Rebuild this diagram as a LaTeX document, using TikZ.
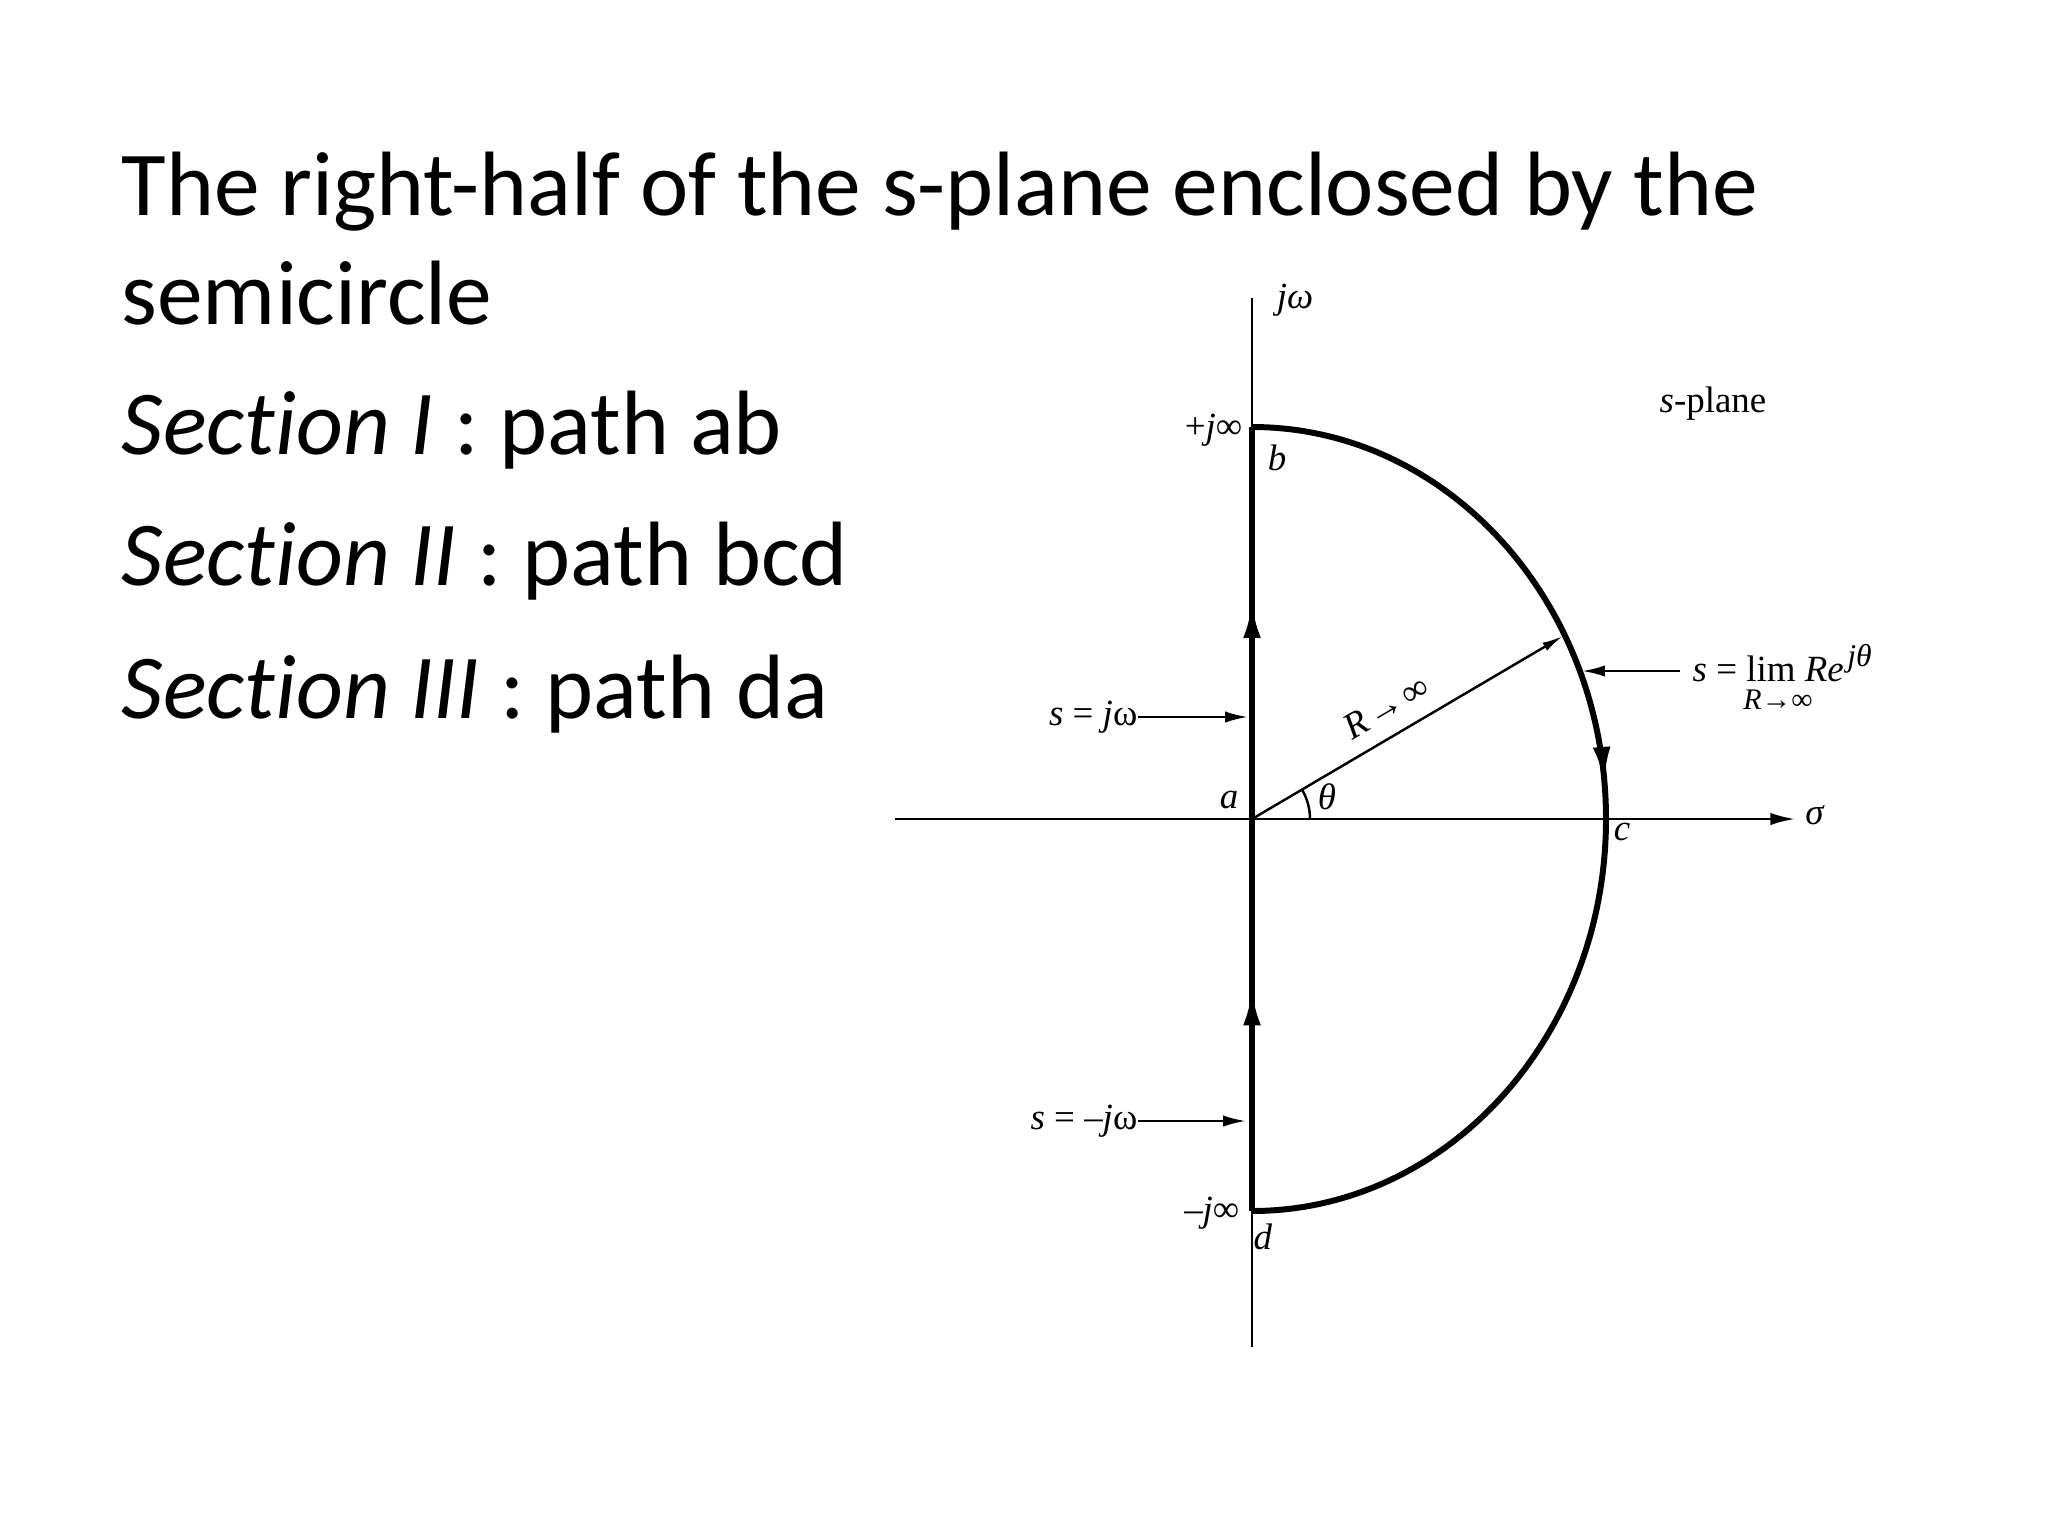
\documentclass[tikz,border=0pt]{standalone}
\usepackage{fontspec}
\setmainfont{Carlito}[Ligatures=NoCommon,RawFeature={-liga;-dlig}]
\newfontfamily\lblfont{Liberation Serif}
\usetikzlibrary{arrows.meta,decorations.markings}
\tikzset{pathtip/.tip={Latex[length=10.5pt,width=5pt]}}
\newcommand\nolig{\kern0pt}
\begin{document}
\begin{tikzpicture}[x=0.01cm,y=-0.01cm,
  thinline/.style={line width=0.7pt},
  thickline/.style={line width=1.7pt},
  lbl/.style={inner sep=0pt, font=\lblfont\fontsize{10.5}{12}\selectfont},
  titletext/.style={inner sep=0pt, anchor=base west, font=\fontsize{26}{30}\selectfont},
  smalltip/.style={-{Latex[length=6.5pt,width=3.2pt]}}
]
\fill[white] (0,0) rectangle (2048,1536);
\useasboundingbox (0,0) rectangle (2048,1536);

% text
\node[titletext] (t1) at (121,215) {The right-half of the s-plane enclosed by the};
\node[titletext] (t2) at (121,324) {semicircle};
\node[titletext] (s1) at (121,454) {\textit{Sect\nolig ion I} : path ab};
\node[titletext] (s2) at (121,585) {\textit{Sect\nolig ion II} : path bcd};
\node[titletext] (s3) at (121,718) {\textit{Sect\nolig ion III} : path da};

% points
\coordinate (a) at (1252,819);
\coordinate (b) at (1252,427);
\coordinate (d) at (1252,1211);
\coordinate (c) at (1606,819);
\coordinate (ytop) at (1252,298);
\coordinate (ybot) at (1252,1347);
\coordinate (xleft) at (895,819);
\coordinate (xright) at (1795,819);
\coordinate (rtip) at (1563,636);
\coordinate (thA) at (1310,819);

% axes
\draw[thinline] (ybot) -- (ytop);
\draw[thinline,-{Latex[length=7pt,width=3.5pt]}] (xleft) -- (xright);

% contour
\draw[thickline,postaction={decorate},decoration={markings,
  mark=at position 0.284 with {\arrow{pathtip}},
  mark=at position 0.778 with {\arrow{pathtip}}}] (d) -- (b);
\draw[thickline,postaction={decorate},decoration={markings,
  mark=at position 0.47 with {\arrow{pathtip}}}]
  (b) arc[start angle=-90,end angle=90,x radius=354,y radius=392];

% radius and angle
\draw[thinline,-{Latex[length=6pt,width=2.6pt]}] (a) -- (rtip);
\draw[thinline] (thA) arc[start angle=0,end angle=-30.5,radius=58];
\node[lbl,rotate=30.5] (Rlbl) at (1386,707) {\textit{R}\kern1pt→\kern1pt∞};

% labels
\node[lbl] (jw) at (1295,300) {\textit{jω}};
\node[lbl,anchor=east] (pjinf) at (1243,430) {+\textit{j}∞};
\node[lbl] (blbl) at (1277,458) {\textit{b}};
\node[lbl] (albl) at (1229,800) {\textit{a}};
\node[lbl] (thlbl) at (1327,797) {\textit{θ}};
\node[lbl] (clbl) at (1622,832) {\textit{c}};
\node[lbl] (sigma) at (1815,815) {\textit{σ}};
\node[lbl,anchor=east] (mjinf) at (1240,1213) {–\textit{j}∞};
\node[lbl] (dlbl) at (1263,1237) {\textit{d}};
\node[lbl] (splane) at (1713,404) {\textit{s}-plane};

% s = jw arrows
\node[lbl,anchor=east] (sjw) at (1138,717) {\textit{s} = \textit{j}ω};
\coordinate (sjwend) at (1248,717);
\draw[thinline,smalltip] (sjw.east) -- (sjwend);
\node[lbl,anchor=east] (smjw) at (1138,1121) {\textit{s} = –\textit{j}ω};
\coordinate (smjwend) at (1246,1121);
\draw[thinline,smalltip] (smjw.east) -- (smjwend);

% limit label
\node[lbl,anchor=base west] (limeq) at (1692,681) {\textit{s} = lim \textit{Re}\kern1pt\raisebox{0.85ex}{\fontsize{9}{10}\selectfont\textit{jθ}}};
\node[lbl,font=\lblfont\fontsize{8.5}{10}\selectfont] (limsub) at (1778,700) {\textit{R}→∞};
\coordinate (limstart) at (1680,671);
\coordinate (limend) at (1582,671);
\draw[thinline,smalltip] (limstart) -- (limend);
\end{tikzpicture}
\end{document}
